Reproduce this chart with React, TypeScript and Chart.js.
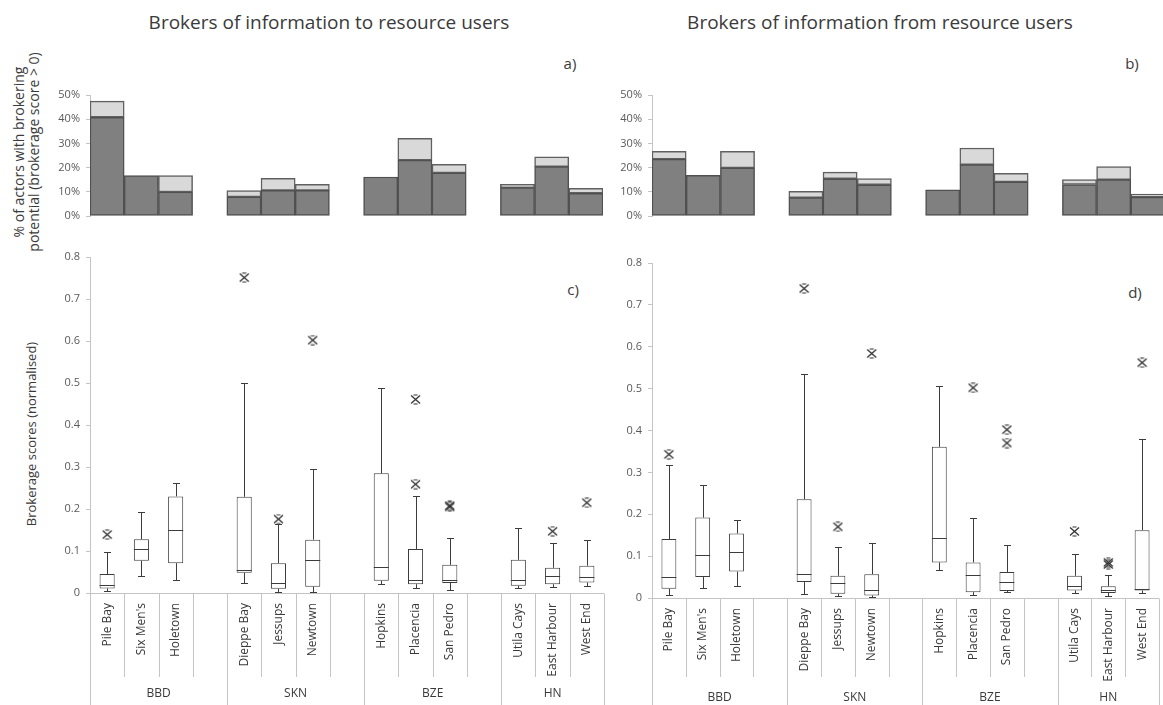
import React, { useEffect, useRef } from 'react';
import { Chart, registerables } from 'chart.js';

Chart.register(...registerables);

// ---------- data ----------
const categories = ['Pile Bay', "Six Men's", 'Holetown', '', 'Dieppe Bay', 'Jessups', 'Newtown', '', 'Hopkins', 'Placencia', 'San Pedro', '', 'Utila Cays', 'East Harbour', 'West End'];
const groups = ['BBD', 'SKN', 'BZE', 'HN'];
const groupFirst = [0, 4, 8, 12];
const groupLast = [3, 7, 11, 14];

const pctTicks = [0, 10, 20, 30, 40, 50];
const scoreTicks = [0, 0.1, 0.2, 0.3, 0.4, 0.5, 0.6, 0.7, 0.8];

// a) % of actors (dark part and total bar height)
const toDark = [40.8, 16.7, 9.9, null, 7.9, 10.6, 10.6, null, 16.1, 23.1, 17.8, null, 11.7, 20.4, 9.4];
const toTotal = [47.5, 16.7, 16.7, null, 10.5, 15.6, 13.1, null, 16.1, 32.1, 21.3, null, 13.1, 24.5, 11.4];
// b)
const fromDark = [23.5, 16.8, 19.9, null, 7.6, 15.4, 12.9, null, 10.8, 21.2, 14.1, null, 13.0, 15.0, 7.8];
const fromTotal = [26.7, 16.8, 26.7, null, 10.2, 18.1, 15.5, null, 10.8, 28.1, 17.6, null, 15.0, 20.4, 9.1];

// c) box plots, brokers of information to resource users
const toMin = [0.004, 0.040, 0.031, null, 0.023, 0.003, 0.003, null, 0.021, 0.011, 0.006, null, 0.011, 0.014, 0.016];
const toQ1 = [0.011, 0.077, 0.071, null, 0.048, 0.010, 0.015, null, 0.029, 0.021, 0.024, null, 0.017, 0.021, 0.025];
const toMed = [0.019, 0.105, 0.150, null, 0.055, 0.025, 0.079, null, 0.063, 0.031, 0.032, null, 0.032, 0.041, 0.037];
const toQ3 = [0.045, 0.128, 0.230, null, 0.229, 0.071, 0.127, null, 0.285, 0.105, 0.067, null, 0.079, 0.060, 0.065];
const toMax = [0.097, 0.192, 0.261, null, 0.501, 0.164, 0.296, null, 0.488, 0.230, 0.131, null, 0.154, 0.119, 0.127];
const toOut1 = [0.139, null, null, null, 0.751, 0.176, 0.602, null, null, 0.461, 0.208, null, null, 0.147, 0.215];
const toOut2 = [null, null, null, null, null, null, null, null, null, 0.259, 0.205, null, null, null, null];

// d) box plots, brokers of information from resource users
const fromMin = [0.008, 0.025, 0.029, null, 0.010, 0.004, 0.002, null, 0.068, 0.008, 0.014, null, 0.012, 0.004, 0.012];
const fromQ1 = [0.022, 0.050, 0.063, null, 0.038, 0.010, 0.006, null, 0.085, 0.014, 0.017, null, 0.018, 0.012, 0.018];
const fromMed = [0.050, 0.102, 0.111, null, 0.057, 0.036, 0.018, null, 0.144, 0.054, 0.038, null, 0.029, 0.020, 0.022];
const fromQ3 = [0.141, 0.192, 0.154, null, 0.236, 0.053, 0.057, null, 0.361, 0.085, 0.062, null, 0.053, 0.028, 0.162];
const fromMax = [0.317, 0.271, 0.186, null, 0.536, 0.122, 0.132, null, 0.507, 0.192, 0.127, null, 0.105, 0.054, 0.379];
const fromOut1 = [0.343, null, null, null, 0.739, 0.170, 0.584, null, null, 0.502, 0.402, null, 0.159, 0.085, 0.562];
const fromOut2 = [null, null, null, null, null, null, null, null, null, null, 0.370, null, null, 0.080, null];

// ---------- styling ----------
const FONT = '"Open Sans", "DejaVu Sans", sans-serif';
const TICK_COLOR = '#5a5a5a';
const AXIS_COLOR = '#c4c4c4';
const TEXT_COLOR = '#3a3a3a';

type Box = { left: number; top: number; width: number; height: number; yAxisWidth: number; padTop: number; padBottom: number };

function makeStar(): HTMLCanvasElement {
  const c = document.createElement('canvas');
  c.width = 11;
  c.height = 11;
  const g = c.getContext('2d')!;
  g.strokeStyle = '#2a2a2a';
  g.lineWidth = 1.2;
  g.beginPath();
  g.moveTo(1, 1.5); g.lineTo(10, 9.5);
  g.moveTo(10, 1.5); g.lineTo(1, 9.5);
  g.moveTo(3.5, 1); g.lineTo(7.5, 1);
  g.moveTo(3.5, 10); g.lineTo(7.5, 10);
  g.stroke();
  return c;
}

function yAxis(min: number, max: number, ticks: number[], fmt: (v: number) => string, width: number) {
  return {
    min,
    max,
    afterBuildTicks: (s: any) => { s.ticks = ticks.map((v) => ({ value: v })); },
    ticks: { callback: (v: any) => fmt(Number(v)), color: TICK_COLOR, font: { family: FONT, size: 11 }, padding: 6 },
    grid: { display: true, drawOnChartArea: false, drawTicks: true, tickLength: 4, color: AXIS_COLOR },
    border: { display: true, color: AXIS_COLOR, width: 1 },
    afterFit: (s: any) => { s.width = width; s.paddingTop = 0; s.paddingBottom = 0; },
  };
}

function barConfig(dark: (number | null)[], total: (number | null)[], b: Box) {
  const light = total.map((t, i) => (t == null || dark[i] == null || t - (dark[i] as number) <= 0.05 ? null : t - (dark[i] as number)));
  return {
    type: 'bar',
    data: {
      labels: categories,
      datasets: [
        { label: 'dark', data: dark, backgroundColor: '#808080', borderColor: '#505050', borderWidth: 1.5, borderSkipped: false, barPercentage: 1, categoryPercentage: 1, stack: 's' },
        { label: 'light', data: light, backgroundColor: '#d9d9d9', borderColor: '#606060', borderWidth: 1.5, borderSkipped: false, barPercentage: 1, categoryPercentage: 1, stack: 's' },
      ],
    },
    options: {
      animation: false,
      responsive: false,
      devicePixelRatio: 1,
      layout: { padding: { left: 0, right: 0, top: b.padTop, bottom: b.padBottom } },
      plugins: { legend: { display: false }, tooltip: { enabled: false } },
      scales: {
        x: { type: 'category', stacked: true, display: false, offset: true },
        y: { stacked: true, ...yAxis(0, 50, pctTicks, (v) => v + '%', b.yAxisWidth) },
      },
    },
  };
}

function boxConfig(
  mins: (number | null)[], q1s: (number | null)[], meds: (number | null)[], q3s: (number | null)[], maxs: (number | null)[],
  out1: (number | null)[], out2: (number | null)[], b: Box, labelGap: number, shortLen: number, longLen: number, groupY: number, star: HTMLCanvasElement,
) {
  const boxes = q1s.map((q, i) => (q == null ? null : [q, q3s[i] as number]));
  const whiskerPlugin = {
    id: 'whiskers',
    afterDatasetsDraw(chart: any) {
      const x = chart.scales.x, y = chart.scales.y, ctx = chart.ctx;
      const slot = (chart.chartArea.right - chart.chartArea.left) / categories.length;
      const bw = (slot * 0.44) / 2;
      const cw = 3.5;
      ctx.save();
      ctx.strokeStyle = '#3c3c3c';
      ctx.lineWidth = 1;
      ctx.beginPath();
      meds.forEach((m, i) => {
        if (m == null) return;
        const cx = Math.round(x.getPixelForValue(i)) + 0.5;
        const yMin = Math.round(y.getPixelForValue(mins[i])) + 0.5;
        const yMax = Math.round(y.getPixelForValue(maxs[i])) + 0.5;
        const yQ1 = y.getPixelForValue(q1s[i]);
        const yQ3 = y.getPixelForValue(q3s[i]);
        const yMed = Math.round(y.getPixelForValue(m)) + 0.5;
        ctx.moveTo(cx, yQ1); ctx.lineTo(cx, yMin);
        ctx.moveTo(cx, yQ3); ctx.lineTo(cx, yMax);
        ctx.moveTo(cx - cw, yMin); ctx.lineTo(cx + cw, yMin);
        ctx.moveTo(cx - cw, yMax); ctx.lineTo(cx + cw, yMax);
        ctx.moveTo(x.getPixelForValue(i) - bw, yMed); ctx.lineTo(x.getPixelForValue(i) + bw, yMed);
      });
      ctx.stroke();
      ctx.restore();
    },
  };
  const axisPlugin = {
    id: 'multiAxis',
    afterDraw(chart: any) {
      const { ctx, chartArea: a } = chart;
      const x = chart.scales.x;
      const n = categories.length;
      const slot = (a.right - a.left) / n;
      const yb = Math.round(a.bottom) + 0.5;
      ctx.save();
      ctx.strokeStyle = AXIS_COLOR;
      ctx.lineWidth = 1;
      ctx.beginPath();
      ctx.moveTo(a.left, yb); ctx.lineTo(a.right, yb);
      const xl = Math.round(a.left) + 0.5;
      ctx.moveTo(xl, yb); ctx.lineTo(xl, a.bottom + longLen);
      for (let i = 0; i < n; i++) {
        const xr = Math.round(a.left + (i + 1) * slot) + 0.5;
        const long = groupLast.includes(i);
        ctx.moveTo(xr, yb); ctx.lineTo(xr, a.bottom + (long ? longLen : shortLen));
      }
      ctx.stroke();
      ctx.fillStyle = TEXT_COLOR;
      ctx.font = `12px ${FONT}`;
      categories.forEach((c, i) => {
        if (!c) return;
        ctx.save();
        ctx.translate(x.getPixelForValue(i), a.bottom + labelGap);
        ctx.rotate(-Math.PI / 2);
        ctx.textAlign = 'right';
        ctx.textBaseline = 'middle';
        ctx.fillText(c, 0, 0);
        ctx.restore();
      });
      ctx.textAlign = 'center';
      ctx.textBaseline = 'middle';
      groups.forEach((g, k) => {
        const x0 = x.getPixelForValue(groupFirst[k]) - slot / 2;
        const x1 = x.getPixelForValue(groupLast[k]) + slot / 2;
        ctx.fillText(g, (x0 + x1) / 2, a.bottom + groupY);
      });
      ctx.restore();
    },
  };
  const outlierDs = (data: (number | null)[]) => ({
    type: 'line', data, showLine: false, pointStyle: star, pointRadius: 5, pointHoverRadius: 5,
    borderColor: '#2a2a2a', backgroundColor: 'transparent', clip: false,
  });
  return {
    type: 'bar',
    data: {
      labels: categories,
      datasets: [
        { label: 'box', data: boxes, backgroundColor: '#ffffff', borderColor: '#3c3c3c', borderWidth: 1, borderSkipped: false, barPercentage: 0.44, categoryPercentage: 1 },
        outlierDs(out1),
        outlierDs(out2),
      ],
    },
    options: {
      animation: false,
      responsive: false,
      devicePixelRatio: 1,
      layout: { padding: { left: 0, right: 0, top: b.padTop, bottom: b.padBottom } },
      plugins: { legend: { display: false }, tooltip: { enabled: false } },
      scales: {
        x: { type: 'category', display: false, offset: true },
        y: yAxis(0, 0.8, scoreTicks, (v) => (v === 0 ? '0' : v.toFixed(1)), b.yAxisWidth),
      },
    },
    plugins: [whiskerPlugin, axisPlugin],
  };
}

function ChartCanvas({ box, build }: { box: Box; build: (star: HTMLCanvasElement) => any }) {
  const ref = useRef<HTMLCanvasElement>(null);
  useEffect(() => {
    const chart = new Chart(ref.current!, build(makeStar()));
    return () => chart.destroy();
  }, []);
  return (
    <canvas
      ref={ref}
      width={box.width}
      height={box.height}
      style={{ position: 'absolute', left: box.left, top: box.top, width: box.width, height: box.height, display: 'block' }}
    />
  );
}

const boxA: Box = { left: 0, top: 80, width: 603, height: 150, yAxisWidth: 90, padTop: 15, padBottom: 14 };
const boxB: Box = { left: 600, top: 80, width: 565, height: 150, yAxisWidth: 52, padTop: 15, padBottom: 14 };
const boxC: Box = { left: 0, top: 240, width: 610, height: 465, yAxisWidth: 90, padTop: 17, padBottom: 112 };
const boxD: Box = { left: 600, top: 240, width: 565, height: 465, yAxisWidth: 52, padTop: 23, padBottom: 107 };

const textBase: React.CSSProperties = { position: 'absolute', fontFamily: FONT, color: TEXT_COLOR, whiteSpace: 'nowrap', transform: 'translate(-50%, -50%)' };

export default function App() {
  return (
    <div style={{ position: 'absolute', left: 0, top: 0, width: 1163, height: 705, overflow: 'hidden', background: '#fff' }}>
      <div style={{ ...textBase, left: 329, top: 22, fontSize: 19 }}>Brokers of information to resource users</div>
      <div style={{ ...textBase, left: 880, top: 22, fontSize: 19 }}>Brokers of information from resource users</div>
      <div style={{ ...textBase, left: 570, top: 63, fontSize: 15 }}>a)</div>
      <div style={{ ...textBase, left: 1132, top: 63, fontSize: 15 }}>b)</div>
      <div style={{ ...textBase, left: 573, top: 289, fontSize: 15 }}>c)</div>
      <div style={{ ...textBase, left: 1135, top: 292, fontSize: 15 }}>d)</div>
      <div style={{ ...textBase, left: 26, top: 152, fontSize: 14, lineHeight: '15px', textAlign: 'center', transform: 'translate(-50%, -50%) rotate(-90deg)' }}>
        % of actors with brokering<br />potential (brokerage score &gt; 0)
      </div>
      <div style={{ ...textBase, left: 31, top: 434, fontSize: 13, transform: 'translate(-50%, -50%) rotate(-90deg)' }}>Brokerage scores (normalised)</div>
      <ChartCanvas box={boxA} build={() => barConfig(toDark, toTotal, boxA)} />
      <ChartCanvas box={boxB} build={() => barConfig(fromDark, fromTotal, boxB)} />
      <ChartCanvas box={boxC} build={(s) => boxConfig(toMin, toQ1, toMed, toQ3, toMax, toOut1, toOut2, boxC, 10, 84, 112, 101, s)} />
      <ChartCanvas box={boxD} build={(s) => boxConfig(fromMin, fromQ1, fromMed, fromQ3, fromMax, fromOut1, fromOut2, boxD, 10, 79, 107, 100, s)} />
    </div>
  );
}
